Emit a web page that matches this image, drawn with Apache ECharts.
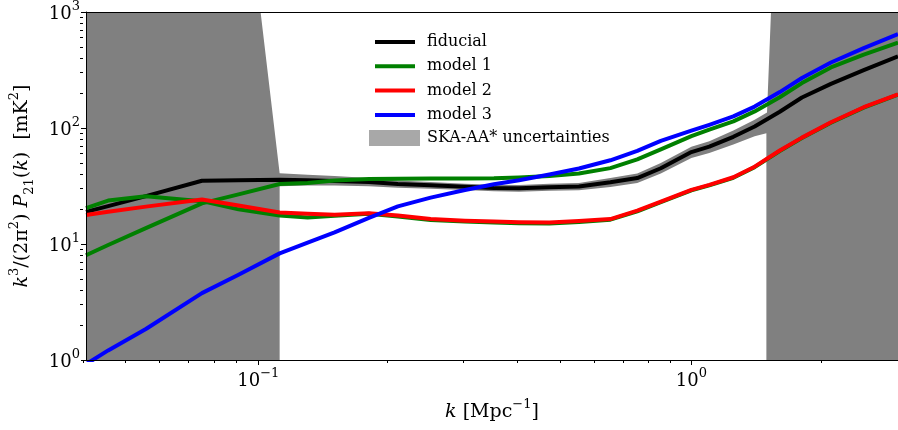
<!DOCTYPE html>
<html>
<head>
<meta charset="utf-8">
<script src="https://cdn.jsdelivr.net/npm/echarts@6/dist/echarts.min.js"></script>
<style>
  html, body { margin: 0; padding: 0; background: #fff; }
  #chart { width: 898px; height: 430px; }
</style>
</head>
<body>
<div id="chart"></div>
<script>
// k grid shared by the model curves [Mpc^-1]
const kValues = [0.04, 0.045, 0.055, 0.0741, 0.09, 0.112, 0.13, 0.15, 0.18, 0.21, 0.25, 0.3, 0.35, 0.4,
  0.47, 0.55, 0.65, 0.75, 0.85, 1.0, 1.1, 1.25, 1.4, 1.6, 1.8, 2.1, 2.5, 3.0];

// k^3/(2pi^2) P21(k) [mK^2]
const fiducial = [18.9, 21.2, 25.9, 35.1, 35.5, 35.8, 35.5, 35.0, 34.2, 32.9, 32.1, 31.1, 30.4, 30.2,
  30.9, 31.3, 34, 37, 45, 62, 69, 84, 103, 138, 183, 240, 316, 414];
const model1 = [8.0, 9.8, 13.7, 22.4, 26.8, 32.9, 33.6, 35.2, 36.3, 36.6, 36.7, 36.7, 36.8, 37.4,
  38.6, 40.5, 45.1, 53.7, 65.5, 85, 97, 114, 139, 184, 244, 333, 430, 545];
const model1b = [20.4, 23.7, 25.8, 23.4, 19.9, 17.6, 16.9, 17.5, 18.2, 17.3, 16.1, 15.6, 15.3, 15.1,
  15.0, 15.5, 16.2, 19.1, 22.9, 29.0, 32.0, 37.2, 46.0, 63.4, 82.0, 111, 150, 194];
const model2 = [17.8, 19.0, 21.0, 24.2, 21.5, 18.7, 18.2, 17.9, 18.4, 17.6, 16.4, 15.9, 15.6, 15.4,
  15.3, 15.8, 16.4, 19.4, 23.2, 29.3, 32.3, 37.6, 46.4, 64, 82.6, 112, 151, 195];
const model3 = [0.92, 1.21, 1.85, 3.77, 5.43, 8.3, 10.3, 12.6, 16.8, 21.1, 25.1, 29.2, 32.7, 35.5,
  39.8, 44.8, 52.7, 63.5, 77.4, 94.8, 106.6, 126, 153, 204, 270, 367, 488, 644];

// SKA-AA* uncertainty envelope
const upperK = [0.04, 0.1012, 0.112, 0.13, 0.15, 0.18, 0.21, 0.25, 0.3, 0.35, 0.4, 0.47, 0.55, 0.65,
  0.75, 0.85, 1.0, 1.1, 1.25, 1.4, 1.495, 1.527, 3.0];
const upperV = [1000, 1000, 40.8, 39.5, 38.5, 37, 35.3, 34.3, 33.1, 32.4, 32.3, 33.1, 33.6, 37,
  40.5, 50, 69, 77, 95, 118, 136, 1000, 1000];
const lowerK = [0.04, 0.112, 0.112, 0.13, 0.15, 0.18, 0.21, 0.25, 0.3, 0.35, 0.4, 0.47, 0.55, 0.65,
  0.75, 0.85, 1.0, 1.1, 1.25, 1.4, 1.49, 1.49, 3.0];
const lowerV = [1, 1, 31.5, 32, 32, 31.5, 30.6, 30.0, 29.2, 28.5, 28.2, 28.8, 29.1, 31,
  33.5, 40.5, 55, 61, 72, 85, 90, 1, 1];

// ticks
const xMajor = [0.1, 1];
const xMinor = [0.04, 0.05, 0.06, 0.07, 0.08, 0.09, 0.2, 0.3, 0.4, 0.5, 0.6, 0.7, 0.8, 0.9, 2, 3];
const yMajor = [1, 10, 100, 1000];
const yMinor = [2, 3, 4, 5, 6, 7, 8, 9, 20, 30, 40, 50, 60, 70, 80, 90, 200, 300, 400, 500, 600, 700, 800, 900];

const FONT = 'DejaVu Serif';
const pairs = (vals) => kValues.map((k, i) => [k, vals[i]]);

const tickRich = {
  b: { fontFamily: FONT, fontSize: 18, color: '#000', lineHeight: 28 },
  s: { fontFamily: FONT, fontSize: 13, color: '#000', lineHeight: 14, verticalAlign: 'top' },
};
const titleRich = {
  r: { fontFamily: FONT, fontSize: 19, color: '#000', lineHeight: 28 },
  i: { fontFamily: FONT, fontSize: 19, color: '#000', lineHeight: 28, fontStyle: 'italic' },
  sup: { fontFamily: FONT, fontSize: 13, color: '#000', lineHeight: 14, verticalAlign: 'top' },
  sub: { fontFamily: FONT, fontSize: 13, color: '#000', lineHeight: 14, verticalAlign: 'bottom' },
};
function powLabel(v) {
  const e = Math.round(Math.log10(v));
  return '{b|10}{s|' + (e < 0 ? '\u2212' + -e : e) + '}';
}

const chart = echarts.init(document.getElementById('chart'));

function lineSeries(name, vals, color) {
  return {
    name, type: 'line', data: pairs(vals), symbol: 'none', smooth: false,
    xAxisIndex: 0, yAxisIndex: 0,
    lineStyle: { color, width: 4, join: 'round' }, itemStyle: { color }, z: 3,
  };
}

chart.setOption({
  animation: false,
  backgroundColor: '#fff',
  grid: [
    { left: 83, right: -3, top: 12, bottom: 70 },
    { left: 83, right: -3, top: 12, bottom: 70 },
  ],
  legend: [
    {
      orient: 'vertical', left: 375, top: 34, padding: 0, itemWidth: 40, itemHeight: 4, itemGap: 8.3,
      icon: 'rect', data: ['fiducial', 'model 1', 'model 2', 'model 3'],
      textStyle: { fontFamily: FONT, fontSize: 16, color: '#000', lineHeight: 16, padding: [0, 0, 0, 7] },
    },
    {
      orient: 'vertical', left: 369, top: 130, padding: 0, itemWidth: 51, itemHeight: 16, icon: 'rect',
      data: [{ name: 'SKA-AA* uncertainties', itemStyle: { color: '#a8a8a8' } }],
      textStyle: { fontFamily: FONT, fontSize: 16, color: '#000', lineHeight: 16, padding: [0, 0, 0, 2] },
    },
  ],
  xAxis: [
    {
      type: 'log', gridIndex: 0, position: 'bottom', min: 0.04, max: 3, z: 10,
      axisLine: { lineStyle: { color: '#000', width: 1 } },
      axisTick: { customValues: xMajor, length: 5, lineStyle: { color: '#000' } },
      axisLabel: { customValues: xMajor, margin: 7, formatter: powLabel, rich: tickRich },
      splitLine: { show: false },
      name: '{i|k}{r| [Mpc}{sup|\u22121}{r|]}', nameLocation: 'middle', nameGap: 38,
      nameTextStyle: { rich: titleRich },
    },
    {
      type: 'log', gridIndex: 0, position: 'top', min: 0.04, max: 3, z: 10,
      axisLine: { lineStyle: { color: '#000', width: 1 } },
      axisTick: { show: false }, axisLabel: { show: false }, splitLine: { show: false },
    },
    {
      type: 'log', gridIndex: 1, position: 'bottom', min: 0.04, max: 3, z: 10,
      axisLine: { show: false },
      axisTick: { customValues: xMinor, length: 3, lineStyle: { color: '#000' } },
      axisLabel: { show: false }, splitLine: { show: false },
    },
  ],
  yAxis: [
    {
      type: 'log', gridIndex: 0, position: 'left', min: 1, max: 1000, z: 10,
      axisLine: { lineStyle: { color: '#000', width: 1 } },
      axisTick: { customValues: yMajor, length: 5, lineStyle: { color: '#000' } },
      axisLabel: { customValues: yMajor, margin: 6, formatter: powLabel, rich: tickRich, padding: [5, 0, 0, 0] },
      splitLine: { show: false },
      name: '{i|k}{sup|3}{r|/(2\u03c0}{sup|2}{r|) }{i|P}{sub|21}{r|(}{i|k}{r|)  [mK}{sup|2}{r|]}',
      nameLocation: 'middle', nameRotate: 90, nameGap: 50,
      nameTextStyle: { rich: titleRich },
    },
    {
      type: 'log', gridIndex: 0, position: 'right', min: 1, max: 1000, z: 10,
      axisLine: { lineStyle: { color: '#000', width: 1 } },
      axisTick: { show: false }, axisLabel: { show: false }, splitLine: { show: false },
    },
    {
      type: 'log', gridIndex: 1, position: 'left', min: 1, max: 1000, z: 10,
      axisLine: { show: false },
      axisTick: { customValues: yMinor, length: 3, lineStyle: { color: '#000' } },
      axisLabel: { show: false }, splitLine: { show: false },
    },
  ],
  series: [
    {
      name: 'SKA-AA* uncertainties', type: 'custom', xAxisIndex: 0, yAxisIndex: 0, z: 1, clip: true,
      itemStyle: { color: '#808080' },
      data: [[upperK[0], upperV[0]]],
      renderItem: (params, api) => {
        const pts = upperK.map((k, i) => api.coord([k, upperV[i]]));
        for (let i = lowerK.length - 1; i >= 0; i--) pts.push(api.coord([lowerK[i], lowerV[i]]));
        return { type: 'polygon', shape: { points: pts }, style: { fill: '#808080' } };
      },
    },
    lineSeries('fiducial', fiducial, '#000000'),
    lineSeries('model 1', model1, '#008000'),
    lineSeries('model 1', model1b, '#008000'),
    lineSeries('model 2', model2, '#ff0000'),
    lineSeries('model 3', model3, '#0000ff'),
  ],
});
</script>
</body>
</html>
